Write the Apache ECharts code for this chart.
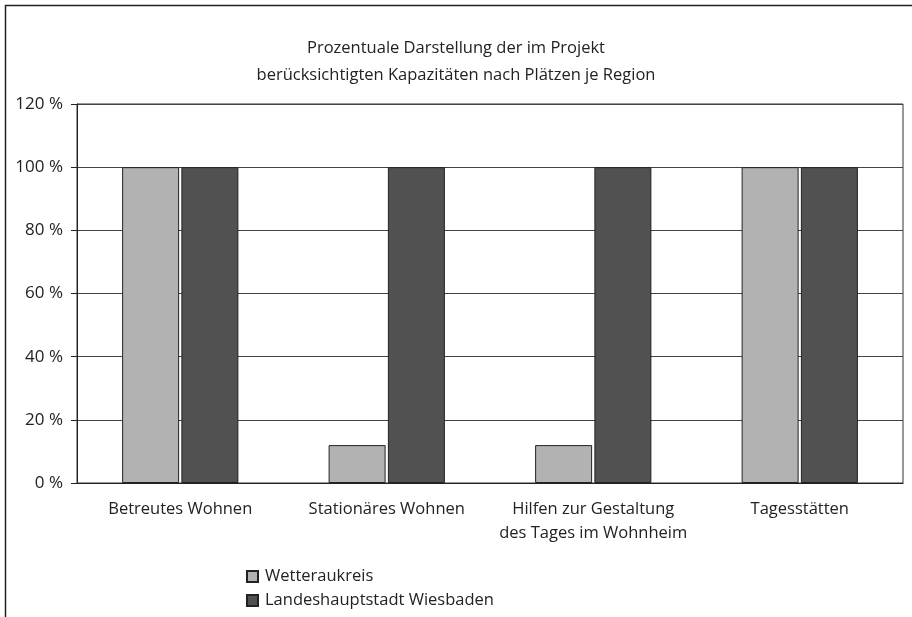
<!DOCTYPE html>
<html>
<head>
<meta charset="utf-8">
<script src="https://cdn.jsdelivr.net/npm/echarts@6/dist/echarts.min.js"></script>
<style>
  html, body { margin: 0; padding: 0; background: #fff; }
  #chart { width: 912px; height: 617px; }
</style>
</head>
<body>
<div id="chart"></div>
<script>
// Daten
var categories = ['Betreutes Wohnen', 'Stationäres Wohnen', 'Hilfen zur Gestaltung\ndes Tages im Wohnheim', 'Tagesstätten'];
var wetterau = [100, 12, 12, 100];
var wiesbaden = [100, 100, 100, 100];
var seriesNames = ['Wetteraukreis', 'Landeshauptstadt Wiesbaden'];

var font = 'Open Sans';
var myChart = echarts.init(document.getElementById('chart'));

var option = {
	animation: false,
	backgroundColor: '#ffffff',
	textStyle: { fontFamily: font },
	title: {
		text: 'Prozentuale Darstellung der im Projekt\nberücksichtigten Kapazitäten nach Plätzen je Region',
		left: 'center',
		top: 30,
		textStyle: {
			fontFamily: font,
			fontWeight: 'normal',
			fontSize: 16.5,
			lineHeight: 27,
			color: '#222'
		}
	},
	legend: {
		orient: 'vertical',
		left: 241,
		top: 563,
		itemWidth: 11,
		itemHeight: 11,
		itemGap: 7,
		icon: 'rect',
		textStyle: { fontFamily: font, fontSize: 16.5, color: '#222', padding: [0, 0, 0, 2] },
		data: seriesNames
	},
	grid: {
		left: 77,
		right: 9,
		top: 104,
		height: 379,
		show: true,
		borderColor: '#333',
		borderWidth: 1,
		containLabel: false
	},
	xAxis: {
		type: 'category',
		data: categories,
		axisLine: { lineStyle: { color: '#222' } },
		axisTick: { show: false },
		axisLabel: {
			interval: 0,
			margin: 14,
			fontFamily: font,
			fontSize: 16.5,
			lineHeight: 24,
			color: '#222'
		}
	},
	yAxis: {
		type: 'value',
		min: 0,
		max: 120,
		interval: 20,
		axisLine: { show: true, lineStyle: { color: '#222' } },
		axisTick: { show: true, length: 6, lineStyle: { color: '#222' } },
		axisLabel: {
			margin: 14,
			fontFamily: font,
			fontSize: 17,
			color: '#222',
			formatter: '{value} %'
		},
		splitLine: { show: true, lineStyle: { color: '#444', width: 1 } }
	},
	series: [{
		name: seriesNames[0],
		type: 'bar',
		data: wetterau,
		barWidth: 57,
		barGap: '4%',
		itemStyle: { color: '#b2b2b2', borderColor: '#222', borderWidth: 1 }
	}, {
		name: seriesNames[1],
		type: 'bar',
		data: wiesbaden,
		barWidth: 57,
		barGap: '4%',
		itemStyle: { color: '#515151', borderColor: '#222', borderWidth: 1 }
	}],
	graphic: [{
		type: 'polyline',
		shape: { points: [[5.5, 617], [5.5, 5.5], [912, 5.5]] },
		style: { stroke: '#222', lineWidth: 1.5, fill: null },
		silent: true
	}]
};

myChart.setOption(option);
</script>
</body>
</html>
